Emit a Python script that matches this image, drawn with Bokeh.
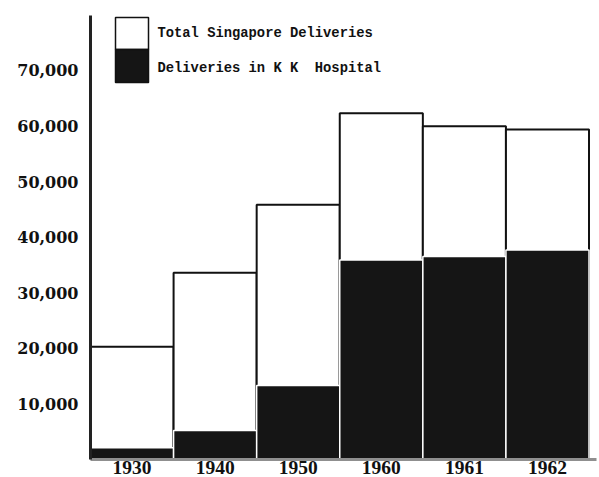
from bokeh.plotting import figure
from bokeh.models import Range1d, FixedTicker, BoxAnnotation, Label
from bokeh.embed import file_html
from bokeh.resources import INLINE

# ---- data ----
years = ["1930", "1940", "1950", "1960", "1961", "1962"]
total_deliveries = [20300, 33600, 45800, 62300, 59950, 59350]
kk_deliveries = [2100, 5200, 13300, 35900, 36500, 37700]
y_ticks = [10000, 20000, 30000, 40000, 50000, 60000, 70000]
y_tick_labels = ["10,000", "20,000", "30,000", "40,000", "50,000", "60,000", "70,000"]
series_names = ["Total Singapore Deliveries", "Deliveries in K K \u00a0Hospital"]

xs = [i + 0.5 for i in range(len(years))]

p = figure(width=599, height=477, output_backend="svg", toolbar_location=None,
           x_range=Range1d(0, 6.09), y_range=Range1d(0, 79860),
           min_border_left=90, min_border_right=3, min_border_top=15, min_border_bottom=18)
p.outline_line_color = None
p.xgrid.visible = False
p.ygrid.visible = False
p.background_fill_color = "white"

r_total = p.vbar(x=xs, width=1.0, top=total_deliveries, bottom=0,
                 fill_color="white", line_color="#111111", line_width=2)
r_kk = p.vbar(x=xs, width=1.0, top=kk_deliveries, bottom=0,
              fill_color="#151515", line_color="white", line_width=1.5)

# x axis
xa = p.xaxis[0]
xa.ticker = FixedTicker(ticks=xs)
xa.major_label_overrides = {x: y for x, y in zip(xs, years)}
xa.axis_line_color = "#8f8f8f"
xa.axis_line_width = 3
xa.major_tick_line_color = None
xa.minor_tick_line_color = None
xa.major_label_standoff = -5
xa.major_label_text_font = "Liberation Serif"
xa.major_label_text_font_style = "bold"
xa.major_label_text_font_size = "19.5px"
xa.major_label_text_color = "#111111"

# y axis
ya = p.yaxis[0]
ya.ticker = FixedTicker(ticks=y_ticks)
ya.major_label_overrides = {t: l for t, l in zip(y_ticks, y_tick_labels)}
ya.axis_line_color = "#222222"
ya.axis_line_width = 3
ya.major_tick_line_color = None
ya.minor_tick_line_color = None
ya.major_label_standoff = 6
ya.major_label_text_font = "DejaVu Serif"
ya.major_label_text_font_style = "bold"
ya.major_label_text_font_size = "16px"
ya.major_label_text_color = "#111111"

# legend (swatches + labels, in screen units relative to the plot frame)
swatch_fill = ["white", "#151515"]
swatch_top = [442, 410]
swatch_bottom = [410, 377]
label_y = [426, 391]
for name, fc, t, b, ly in zip(series_names, swatch_fill, swatch_top, swatch_bottom, label_y):
    p.add_layout(BoxAnnotation(left=25, right=58, top=t, bottom=b,
                               left_units="screen", right_units="screen",
                               top_units="screen", bottom_units="screen",
                               fill_color=fc, fill_alpha=1.0,
                               line_color="#111111", line_width=1.5, line_alpha=1.0))
    p.add_layout(Label(x=67, y=ly, x_units="screen", y_units="screen", text=name,
                       text_font="Liberation Mono", text_font_style="bold",
                       text_font_size="13.8px", text_color="#111111",
                       text_baseline="middle", text_align="left"))

open("out.html", "w").write(file_html(p, INLINE))
